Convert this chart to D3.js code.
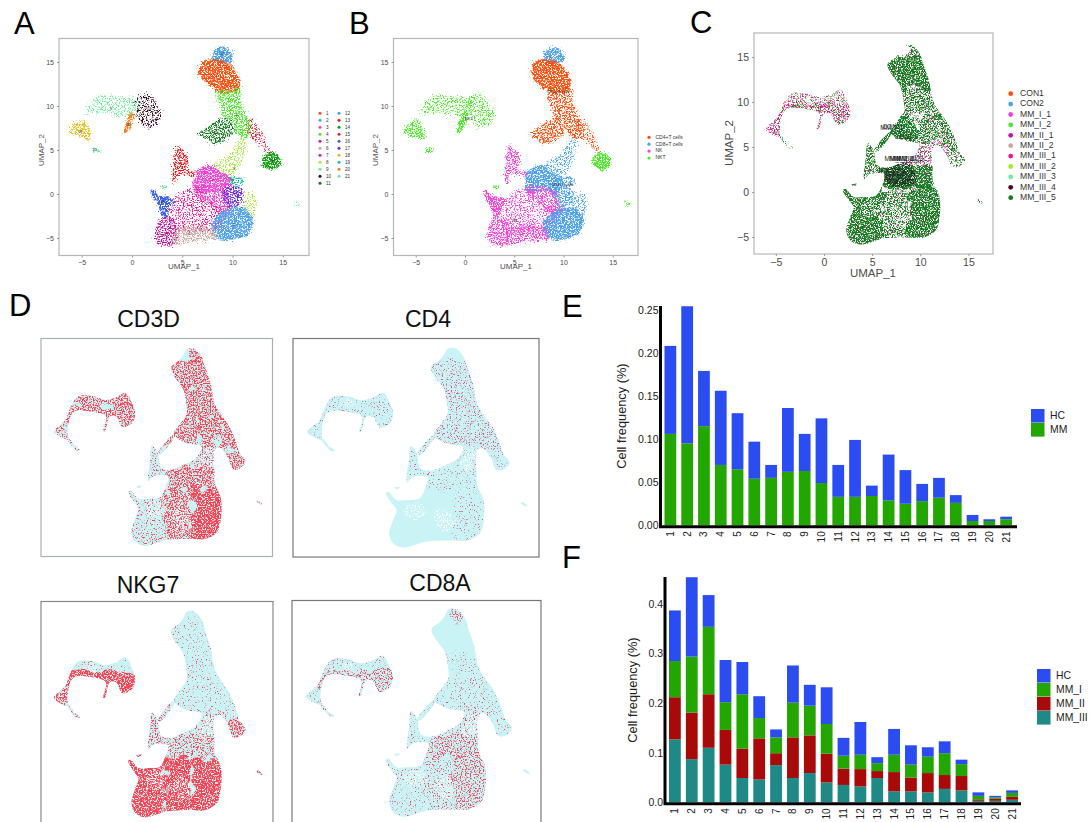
<!DOCTYPE html>
<html><head><meta charset="utf-8">
<script src="https://cdn.jsdelivr.net/npm/d3@7/dist/d3.min.js"></script>
<style>html,body{margin:0;background:#fff}svg{display:block;font-family:"Liberation Sans",Arial,sans-serif}</style>
</head><body><svg id="c" width="1089" height="822"></svg>
<script>
// ---------- DATA ----------
const clusterIds=["1","2","3","4","5","6","7","8","9","10","11","12","13","14","15","16","17","18","19","20","21"];
const clusterColors=["#f8510f","#4ea2ec","#f044d8","#4ee82a","#c01aa0","#c9a9a1","#e81a8e","#a8e840","#70ee9a","#3a0a18","#157a20","#4a9fe4","#e81a20","#10a010","#e02040","#3a60e8","#6a2fe0","#e0c020","#20c0a0","#f08020","#70e8a0"];
const cellTypes=["CD4+T cells","CD8+T cells","NK","NKT"];
const cellTypeColors=["#f8510f","#4ea2ec","#f044d8","#4ee82a"];
const sampleNames=["CON1","CON2","MM_I_1","MM_I_2","MM_II_1","MM_II_2","MM_III_1","MM_III_2","MM_III_3","MM_III_4","MM_III_5"];
const sampleColors=["#f8510f","#4ea2ec","#f044d8","#4ee82a","#c01aa0","#c9a9a1","#f0148e","#a0e82a","#70ee9a","#4a0a20","#157a20"];

// cluster regions in UMAP units: cluster id, cell type, point density (1-5), outline
const regionCluster=["12","1","4","11","15","14","8","8","3","3","7","2","5","6","17","19","16","13","10","9","18","21","20","21","9"];
const regionType=["CD8+T cells","CD4+T cells","CD4+T cells","CD4+T cells","CD4+T cells","NKT","CD8+T cells","CD8+T cells","CD8+T cells","NK","NK","CD8+T cells","NK","NK","CD8+T cells","CD8+T cells","NK","NK","NKT","NKT","NKT","NKT","NKT","NKT","NKT"];
const regionDensity=[5,5,4,4,3,5,3,3,5,4,3,5,4,4,4,4,5,4,3,3,4,4,5,4,3];
const regionOutlines=[
[[8.09,15.4],[8.42,16.3],[9.02,16.5],[9.68,16.2],[9.92,15.15],[9.09,15.0]],
[[6.77,14.1],[7.16,14.9],[8.09,15.2],[9.09,15.0],[9.92,14.3],[10.58,12.95],[10.48,12.0],[9.75,11.6],[8.76,11.7],[7.93,12.3],[7.16,12.95]],
[[8.42,11.44],[9.75,11.6],[10.68,11.9],[10.81,10.3],[11.24,8.98],[11.8,7.65],[11.67,6.9],[11.08,6.44],[10.41,7.08],[10.08,8.22],[9.25,8.79],[8.92,9.92]],
[[6.77,6.82],[7.6,7.46],[8.76,8.41],[9.59,8.41],[9.92,7.08],[9.09,6.14],[8.09,5.83],[7.43,6.33]],
[[11.8,8.48],[12.57,7.46],[13.23,5.76],[13.66,4.62],[12.74,5.76],[11.74,6.7]],
[[13.07,3.86],[13.9,4.7],[14.56,4.05],[14.73,3.48],[14.06,2.92],[13.23,3.18]],
[[8.26,3.3],[9.75,4.24],[10.58,5.76],[11.24,6.14],[10.91,4.24],[10.08,2.35],[9.25,2.16],[8.76,2.73]],
[[11.24,-0.3],[12.07,-0.11],[11.9,-2.58],[11.4,-2.2]],
[[6.43,2.35],[7.43,3.1],[8.59,2.54],[9.75,1.6],[9.25,0.08],[8.3,0.5],[6.43,0.5]],
[[6.43,0.6],[8.3,0.6],[9.25,0.1],[9.75,-2.2],[8.76,-2.2],[7.43,-0.68],[6.43,-0.3]],
[[3.78,-1.25],[6.43,0.64],[7.43,-0.68],[9.09,-2.2],[8.42,-4.1],[7.43,-4.1],[5.44,-4.1],[4.11,-3.7]],
[[8.09,-3.33],[9.42,-1.82],[10.91,-1.63],[11.9,-2.95],[11.58,-4.28],[10.08,-5.04],[8.42,-4.85],[8.09,-4.1]],
[[2.45,-4.09],[2.95,-2.77],[4.11,-2.95],[4.44,-4.47],[4.11,-5.6],[3.12,-5.8],[2.45,-5.04]],
[[4.28,-4.28],[5.44,-3.7],[7.1,-3.7],[8.26,-4.28],[8.26,-5.04],[6.1,-5.23],[4.28,-5.6]],
[[9.15,0.27],[10.08,0.9],[10.91,0.27],[10.81,-1.06],[9.75,-1.36],[9.25,-0.68]],
[[9.75,1.78],[10.91,1.6],[10.68,1.02],[10.08,1.2]],
[[2.06,0.38],[2.62,-0.3],[3.62,-0.5],[4.11,-0.68],[3.62,-1.44],[3.28,-2.58],[2.95,-2.2],[2.79,-1.44],[2.29,-0.68]],
[[4.51,5.45],[4.78,5],[5.27,4.62],[5.44,3.48],[5.17,2.73],[6.27,2.35],[6.1,2.16],[5.11,2.35],[4.44,2.16],[4.18,1.4],[4.28,3.87]],
[[0.53,10.87],[1.63,11.25],[2.45,9.92],[2.79,8.98],[2.29,8.03],[1.29,7.73],[0.63,8.79],[0.46,9.92]],
[[-4.44,9.17],[-3.35,10.98],[-1.86,11.06],[-0.36,10.76],[0.53,10.5],[0.46,9.55],[-0.36,8.98],[-1.36,8.98],[-2.52,9.36],[-3.85,9.36]],
[[-6.1,7.08],[-4.91,8.33],[-4.25,6.33],[-5.17,6.6]],
[[-3.91,5.19],[-3.25,4.92],[-3.68,4.81]],
[[0.03,9.17],[0.13,9.09],[-0.53,7.08],[-0.7,7.08]],
[[2.85,0.83],[3.45,0.9],[3.1,0.64]],
[[16.2,-0.9],[16.6,-1.2],[16.5,-1.3]]
];
const clusterLabels=[["12",8.99,15.9],["1",8.33,13.4],["4",10.4,9],["11",8.3,6.9],["15",12.5,6.8],["14",14.06,3.7],["13",4.78,3.45],["8",10.18,2.84],["19",9.98,1.6],["3",8.03,1.63],["17",10.15,-0.04],["7",6.97,-1.33],["16",2.99,-0.9],["2",10.15,-3.5],["5",3.3,-4.6],["6",5.7,-4.6],["9",-2.09,9.7],["10",1.7,9.7],["20",-0.36,7.8],["18",-5.17,7.08],["21",-3.68,5.04]];
const cellTypeLabels=[["CD4+T cells",9.47,11.63],["CD8+T cells",9.88,1.02],["NK",5.08,-3.03],["NKT",0.4,8.48]];
const sampleLabels=[["CON1",7.0,7.2],["MM_I_1",7.06,7.05],["CON2",8.27,6.1],["MM_I_2",7.5,3.6],["MM_II_1",8.1,3.6],["MM_III_2",8.6,3.6],["MM_III_3",8.9,3.6],["MM_III_1",7.06,2.33],["MM_II_2",7.92,1.92],["MM_III_5",7.92,1.1],["MM_III_4",7.6,1.5]];

// whole cell cloud silhouette in UMAP units
const silhouettes=[
[[8.3,16.27],[9.17,16.27],[9.95,15.34],[10.3,14.23],[10.9,12.38],[11.3,10.2],[12,8.9],[13,7.4],[13.7,5.6],[14,4.62],[14.67,3.59],[13.98,2.8],[13.29,2.8],[12.77,4.07],[11.9,5.18],[11.38,5.0],[11.2,3.8],[11.3,2.4],[11.3,1.29],[12,-0.55],[12,-2.77],[11.6,-4.25],[10.35,-5.06],[8.62,-5.06],[6.19,-5.18],[3.77,-5.84],[2.73,-5.36],[2.32,-4.25],[2.73,-2.77],[3.08,-1.66],[2.73,-1.11],[1.97,0.18],[2.21,0.37],[3.08,-0.55],[4.12,-0.55],[5.4,-0.4],[6.1,1.0],[6.3,1.9],[5.5,2.1],[4.6,1.9],[4.15,1.4],[4.12,2.03],[4.36,3.88],[4.53,5.43],[5.16,4.62],[5.33,3.51],[5.5,2.96],[6.54,2.7],[8.27,3.4],[9.3,4.0],[9.9,5.3],[8.27,5.7],[6.89,6.65],[7.7,8],[8.3,9],[8.2,10.5],[7.9,11.8],[6.89,13.31],[6.6,14.23],[7.5,15],[8,15.71]],
[[-6.09,7.02],[-4.81,8.32],[-4.46,9.24],[-3.5,10.9],[-1.94,10.98],[-0.55,10.54],[0.66,10.83],[1.7,11.35],[2.39,10.17],[2.73,9.06],[2.39,7.95],[1.35,7.5],[0.66,8.69],[-0.03,8.69],[-0.55,7.02],[-0.73,7.02],[-0.45,8.69],[-2.11,9.24],[-3.84,9.24],[-4.36,8.5],[-4.6,6.65],[-4.53,6.1],[-6,6.84]],
[[-4.01,5.43],[-3.22,4.92],[-3.67,4.88]],
[[-4.55,6.3],[-3.9,5.4],[-4.0,5.3],[-4.6,6.1]],
[[5.2,4.6],[6.9,6.7],[7.0,6.5],[5.4,4.4]],
[[2.85,0.83],[3.45,0.9],[3.1,0.64]],
[[15.88,-0.74],[16.5,-1.18],[16.4,-1.28],[15.8,-0.85]]
];
const holeOutlines=[
[[3.94,-1.29],[5.5,-0.92],[6.19,-1.85],[4.98,-2.77],[4.12,-2.59]],
[[6.89,-1.85],[8.27,-1.66],[9.13,-3.14],[8.27,-4.07],[7.23,-3.51]],
[[-2.3,10.5],[-1.5,10.6],[-1.3,10],[-2.1,9.8]],
[[9.6,3.3],[10.1,4.4],[10.6,5.3],[11.2,5],[10.9,3],[10.2,2.6]]
];
const coreOutline=[[6.5,3],[9,3],[9.5,1],[6.7,0.8]];

// expression / sample zones, as [xmin,xmax,ymin,ymax] in UMAP units
const zoneNames=["top12","top1","z4a","z4b","z11","right","r14","mid8","spike","bodyTop","bodyRight","bodyMid","bodyLeft","armTop","armBot","tri","tail","speck"];
const zones=[[8.6,12,15,18],[5.5,12.5,11.6,15.1],[7,13,8.4,11.6],[9.6,12,5.6,8.4],[5.5,9.6,5.6,8.4],[12,15,5,9.5],[12.6,16,2,5],[6.2,12.6,3,5.6],[3,6.2,1.2,7],[6.2,13,0.5,3],[8.8,14,-7.5,0.5],[6,8.8,-7.5,0.5],[0.5,6,-7.5,1.2],[-4.6,4,9.8,12.5],[-4.6,4,6.5,9.8],[-7.5,-4.6,4,9.5],[-4.6,-2.5,4,7],[15,17.5,-2.5,0]];
const levelsCD3D=[4,4,4,4,4,4,4,3,2,4,5,4,2,4,4,3,3,3];
const levelsCD4=[0,2,2,2,2,2,1,1,1,1,1,0,0,1,1,1,0,0];
const levelsNKG7=[1,1,1,1,1,1,4,2,3,3,5,5,5,1,5,4,4,4];
const levelsCD8A=[3,0,1,1,1,1,1,2,1,3,3,2,1,1,3,1,2,0];
const levelsSampleMagenta=[2,1,1,1,0,1,1,2,1,1,1,1,1,2,2,2,0,0];
const levelsSampleBright=[1,1,1,1,0,1,1,1,1,0,1,1,1,2,2,1,0,0];
const levelsSampleCrimson=[1,1,1,1,0,1,1,2,1,1,1,1,1,2,3,3,0,0];
const levelsSampleDark=[4,5,4,4,5,4,3,2,4,5,5,4,5,1,2,1,3,4];

// stacked bars
const barCategories=d3.range(1,22).map(String);
const eHC=[.102,.159,.064,.086,.065,.043,.015,.074,.043,.075,.037,.066,.012,.053,.039,.020,.023,.009,.007,.002,.003];
const eMM=[.106,.095,.115,.070,.065,.054,.055,.062,.063,.049,.033,.033,.034,.029,.025,.028,.032,.026,.005,.005,.007];
const fHC=[.102,.160,.064,.085,.065,.044,.016,.075,.042,.074,.036,.066,.012,.052,.039,.019,.024,.009,.007,.003,.005];
const fMMI=[.073,.113,.136,.056,.110,.041,.032,.070,.060,.060,.026,.029,.016,.035,.026,.033,.044,.024,.007,.003,.008];
const fMMII=[.085,.094,.108,.070,.059,.083,.024,.082,.076,.058,.033,.035,.014,.039,.028,.039,.028,.029,.003,.004,.006];
const fMMIII=[.127,.087,.110,.076,.049,.046,.075,.049,.059,.040,.035,.032,.049,.022,.022,.020,.027,.024,.003,.003,.005];
const yTicksE=[0,.05,.10,.15,.20,.25];
const yTicksF=[0,.1,.2,.3,.4];
const umapXTicks=[-5,0,5,10,15];
const umapYTicks=[-5,0,5,10,15];

// ---------- RENDER ----------
const svg=d3.select("#c"), defs=svg.append("defs");
const thresholds={1:.63,2:.57,3:.51,4:.45,5:.37};
const made=new Set();
function speck(tier,seed,rough){
  const id=`sp${tier}_${seed}_${rough||0}`;
  if(made.has(id))return `url(#${id})`;
  made.add(id);
  const f=defs.append("filter").attr("id",id).attr("x","-30%").attr("y","-30%").attr("width","160%").attr("height","160%").attr("color-interpolation-filters","sRGB");
  f.append("feTurbulence").attr("type","fractalNoise").attr("baseFrequency",.78).attr("numOctaves",2).attr("seed",seed).attr("result","n");
  const k=7,t=thresholds[tier];
  f.append("feColorMatrix").attr("in","n").attr("type","matrix").attr("values",`0 0 0 0 0 0 0 0 0 0 0 0 0 0 0 ${k} 0 0 0 ${-k*t}`).attr("result","m");
  let src="SourceGraphic";
  if(rough){
    f.append("feTurbulence").attr("type","fractalNoise").attr("baseFrequency",rough>8?.09:.2).attr("numOctaves",2).attr("seed",seed+5).attr("result","w");
    f.append("feDisplacementMap").attr("in","SourceGraphic").attr("in2","w").attr("scale",rough).attr("xChannelSelector","R").attr("yChannelSelector","G").attr("result","d");
    src="d";
  }
  f.append("feComposite").attr("in",src).attr("in2","m").attr("operator","in").attr("result","c");
  f.append("feGaussianBlur").attr("in","c").attr("stdDeviation",.45);
  return `url(#${id})`;
}
const ink="#4d4d4d";
function text(g,s,x,y,size,opt={}){
  const t=g.append("text").attr("x",x).attr("y",y).attr("font-size",size).attr("fill",opt.fill||"#111").attr("text-anchor",opt.anchor||"middle").attr("dominant-baseline",opt.base||"auto").text(s);
  if(opt.rot!=null)t.attr("transform",`rotate(${opt.rot},${x},${y})`);
  return t;
}
function scales(p){
  return {x:d3.scaleLinear().domain([0,10]).range([p.x0,p.x0+10*p.xu]),y:d3.scaleLinear().domain([0,10]).range([p.y0,p.y0-10*p.yu])};
}
function frame(g,p,color,w){g.append("rect").attr("x",p.l).attr("y",p.t).attr("width",p.r-p.l).attr("height",p.b-p.t).attr("fill","none").attr("stroke",color).attr("stroke-width",w);}
function umapAxes(g,p,sc,tick,title,tx,ty,tyx,tyy){
  const ax=g.append("g").attr("transform",`translate(0,${p.b})`).call(d3.axisBottom(sc.x).tickValues(umapXTicks).tickSize(2).tickFormat(d=>d<0?"\u2212"+(-d):d));
  const ay=g.append("g").attr("transform",`translate(${p.l},0)`).call(d3.axisLeft(sc.y).tickValues(umapYTicks).tickSize(2).tickFormat(d=>d<0?"\u2212"+(-d):d));
  [ax,ay].forEach(a=>{a.select(".domain").remove();a.selectAll("line").attr("stroke","#999");a.selectAll("text").attr("font-size",tick).attr("fill",ink).attr("font-family","'Liberation Sans',Arial,sans-serif");});
  text(g,"UMAP_1",tx,ty,title,{fill:ink});
  text(g,"UMAP_2",tyx,tyy,title,{fill:ink,rot:-90});
}
const line=sc=>d3.line().x(d=>sc.x(d[0])).y(d=>sc.y(d[1])).curve(d3.curveCatmullRomClosed.alpha(.5));
function clipFor(id,sc){
  const c=defs.append("clipPath").attr("id",id);
  c.selectAll("path").data(silhouettes).join("path").attr("d",line(sc));
}
function zoneLayer(g,sc,levels,color,seed){
  zones.forEach((z,i)=>{
    if(!levels[i])return;
    g.append("rect").attr("x",sc.x(z[0])).attr("y",sc.y(z[3])).attr("width",sc.x(z[1])-sc.x(z[0])).attr("height",sc.y(z[2])-sc.y(z[3])).attr("fill",color).attr("filter",speck(levels[i],seed+i%3,16));
  });
}

// Panels A & B
const pA={l:59,r:309,t:38.5,b:255.5,x0:132,xu:10.05,y0:194,yu:8.8};
const pB={l:393.5,r:638,t:38.5,b:255.5,x0:465,xu:9.85,y0:194,yu:8.8};
[[pA,"A"],[pB,"B"]].forEach(([p,k])=>{
  const g=svg.append("g"),sc=scales(p),ln=line(sc);
  regionOutlines.forEach((o,i)=>{
    const col=k==="A"?clusterColors[clusterIds.indexOf(regionCluster[i])]:cellTypeColors[cellTypes.indexOf(regionType[i])];
    g.append("path").attr("d",ln(o)).attr("fill",col).attr("stroke",col).attr("stroke-width",7).attr("filter",speck(1,3+(i%6),6));
    g.append("path").attr("d",ln(o)).attr("fill",col).attr("stroke",col).attr("stroke-width",2.5).attr("filter",speck(regionDensity[i],9+(i%6),5));
  });
  frame(g,p,"#b4b8b8",1.2);
  (k==="A"?clusterLabels:cellTypeLabels).forEach(l=>text(g,l[0],sc.x(l[1]),sc.y(l[2]),k==="A"?3.6:4,{base:"middle",fill:"#222"}));
  umapAxes(g,p,sc,7,8,k==="A"?184:516,269,k==="A"?44:378,150);
});
// Legends A, B
{const g=svg.append("g");
 clusterIds.forEach((c,i)=>{
  const col=i<11?0:1,row=i<11?i:i-11,x=320+col*19,y=113.3+row*7;
  g.append("circle").attr("cx",x).attr("cy",y).attr("r",1.5).attr("fill",clusterColors[i]);
  text(g,c,x+6,y,4.6,{anchor:"start",base:"middle",fill:"#333"});
 });
 cellTypes.forEach((c,i)=>{
  const y=137.3+i*6.9;
  g.append("circle").attr("cx",649).attr("cy",y).attr("r",1.6).attr("fill",cellTypeColors[i]);
  text(g,c,655.5,y,5,{anchor:"start",base:"middle",fill:"#333"});
 });
}
// Panel C
const pC={l:754,r:993,t:33,b:254,x0:824,xu:9.63,y0:192,yu:9.0};
{const g=svg.append("g"),sc=scales(pC),ln=line(sc);
 clipFor("clipC",sc);
 const body=g.append("g").attr("clip-path","url(#clipC)");
 zoneLayer(body,sc,levelsSampleMagenta,sampleColors[2],41);
 zoneLayer(body,sc,levelsSampleBright,sampleColors[3],44);
 zoneLayer(body,sc,levelsSampleCrimson,sampleColors[6],47);
 zoneLayer(body,sc,levelsSampleDark,sampleColors[10],50);
 body.append("path").attr("d",ln(coreOutline)).attr("fill","#0c3a1a").attr("filter",speck(4,15));
 holeOutlines.slice(0,3).forEach(o=>body.append("path").attr("d",ln(o)).attr("fill","#fff").attr("filter",speck(3,16,5)));
 frame(g,pC,"#b4b8b8",1.2);
 sampleLabels.forEach(l=>text(g,l[0],sc.x(l[1]),sc.y(l[2]),6.5,{base:"middle",fill:"#222"}));
 umapAxes(g,pC,sc,10.5,11.5,873,277,733,143);
 sampleNames.forEach((s,i)=>{
  const y=93.7+i*10.4;
  g.append("circle").attr("cx",1010.7).attr("cy",y).attr("r",2.4).attr("fill",sampleColors[i]);
  text(g,s,1020,y,8.6,{anchor:"start",base:"middle",fill:"#333"});
 });
}
// Panels D
const genes=[
 ["CD3D",levelsCD3D,"#fa3f50",{l:41,r:272.5,t:338.5,b:556.5,x0:110,xu:9.24,y0:493.8,yu:8.9},148.5,327,"#a8b0b0"],
 ["CD4",levelsCD4,"#dd5a7e",{l:293,r:539,t:338.5,b:557,x0:366.5,xu:9.76,y0:495,yu:9.0},428,327,"#777"],
 ["NKG7",levelsNKG7,"#fa3f50",{l:41,r:273,t:601.5,b:830,x0:110,xu:9.24,y0:763,yu:9.3},148,593,"#888"],
 ["CD8A",levelsCD8A,"#f0465a",{l:292,r:541,t:600.5,b:830,x0:366,xu:9.93,y0:762,yu:9.37},440,591,"#777"]
];
genes.forEach((d,i)=>{
 const [name,lev,col,p,tx,ty,fc]=d;
 const g=svg.append("g"),sc=scales(p),ln=line(sc),id="clipD"+i;
 clipFor(id,sc);
 g.selectAll("path.sil").data(silhouettes).join("path").attr("class","sil").attr("d",ln).attr("fill","#c9f3f5");
 const body=g.append("g").attr("clip-path",`url(#${id})`);
 zoneLayer(body,sc,lev,col,60+i*3);
 holeOutlines.forEach(o=>body.append("path").attr("d",ln(o)).attr("fill","#fff").attr("filter",speck(3,31+i,5)));
 frame(g,p,fc,1.2);
 text(g,name,tx,ty,23,{fill:"#111"});
});
// Bars
const stackColors={HC:"#2a4cf0",MM:"#24a600",MM_I:"#24a600",MM_II:"#a80a0a",MM_III:"#1f8a85"};
function bars(o){
 const g=svg.append("g");
 const rows=barCategories.map((c,i)=>{const r={cat:c};o.keys.forEach((k,j)=>r[k]=o.series[j][i]);return r;});
 const st=d3.stack().keys([...o.keys].reverse())(rows);
 const x=d3.scaleBand().domain(barCategories).range([o.x0,o.x1]).paddingInner(.3).paddingOuter(0);
 const y=d3.scaleLinear().domain([0,o.ymax]).range([o.yb,o.yt]);
 st.forEach(s=>g.append("g").attr("fill",stackColors[s.key]).selectAll("rect").data(s).join("rect").attr("x",d=>x(d.data.cat)).attr("width",x.bandwidth()).attr("y",d=>y(d[1])).attr("height",d=>y(d[0])-y(d[1])));
 g.append("path").attr("d",`M${o.ax},${o.yt}V${o.yb+1.5}H${o.axEnd}`).attr("fill","none").attr("stroke","#000").attr("stroke-width",3);
 const ay=g.append("g").attr("transform",`translate(${o.ax+1},0)`).call(d3.axisLeft(y).tickValues(o.ticks).tickSize(0).tickPadding(3).tickFormat(o.fmt));
 ay.select(".domain").remove();
 ay.selectAll("text").attr("font-size",10.5).attr("fill","#222").attr("font-family","'Liberation Sans',Arial,sans-serif");
 barCategories.forEach(c=>text(g,c,x(c)+x.bandwidth()/2+3.5,o.yb+6,10,{anchor:"end",fill:"#222",rot:-90}));
 text(g,"Cell frequency (%)",o.tx,o.ty,12.8,{rot:-90,fill:"#222",base:"middle"});
 o.keys.forEach((k,i)=>{
  g.append("rect").attr("x",o.lx).attr("y",o.ly+i*14).attr("width",13.5).attr("height",13.6).attr("fill",stackColors[k]);
  text(g,k,o.lx+19,o.ly+i*14+7,10.4,{anchor:"start",base:"middle",fill:"#222"});
 });
}
bars({keys:["HC","MM"],series:[eHC,eMM],x0:664.5,x1:1012,yb:525.3,yt:306,ymax:.2543,ticks:yTicksE,fmt:d3.format(".2f"),ax:660.5,axEnd:1017,tx:623,ty:416,lx:1031,ly:409});
bars({keys:["HC","MM_I","MM_II","MM_III"],series:[fHC,fMMI,fMMII,fMMIII],x0:669,x1:1018,yb:802.3,yt:577,ymax:.4545,ticks:yTicksF,fmt:d3.format(".1f"),ax:665,axEnd:1021,tx:634,ty:690,lx:1037,ly:669});
// Panel letters
[["A",14,34],["B",349,34],["C",690,33],["D",9,316],["E",562,317],["F",562,568]].forEach(l=>text(svg,l[0],l[1],l[2],31,{anchor:"start",fill:"#000"}));
</script></body></html>
